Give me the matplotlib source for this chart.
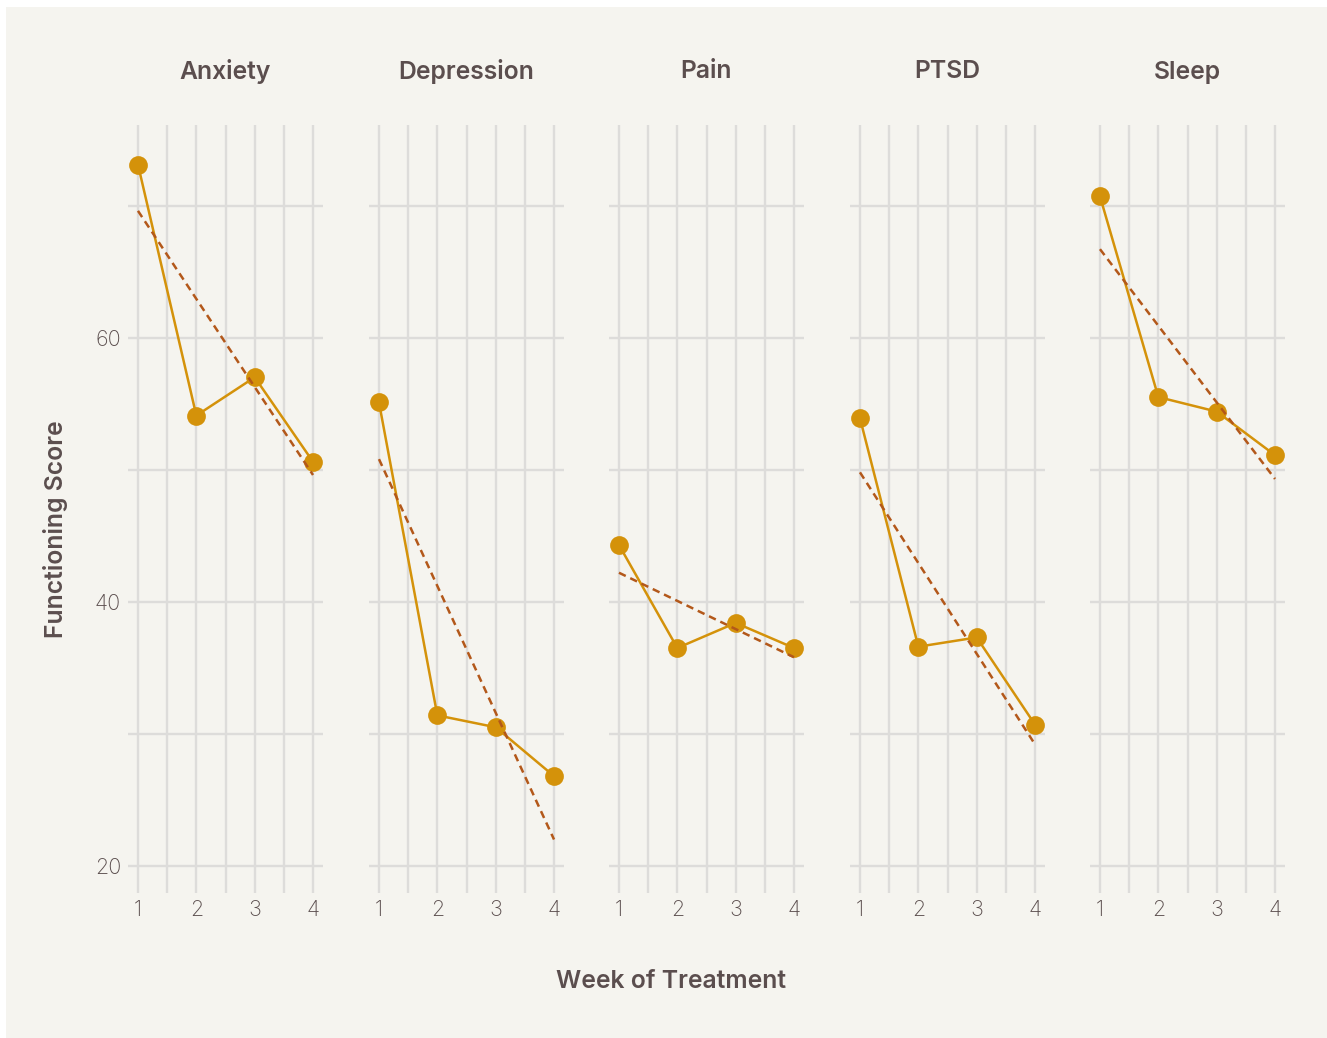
import numpy as np
import matplotlib.pyplot as plt
from matplotlib.patches import Rectangle

plt.rcParams['font.family'] = ['Inter', 'DejaVu Sans']

# data
conditions = ['Anxiety', 'Depression', 'Pain', 'PTSD', 'Sleep']
weeks = [1, 2, 3, 4]
scores = {
    'Anxiety':    [73.1, 54.1, 57.0, 50.6],
    'Depression': [55.1, 31.4, 30.5, 26.8],
    'Pain':       [44.3, 36.5, 38.4, 36.5],
    'PTSD':       [53.9, 36.6, 37.3, 30.7],
    'Sleep':      [70.7, 55.5, 54.4, 51.1],
}
# dashed trend: value at week 1 and at week 4
trend_start = [69.6, 50.8, 42.2, 49.8, 66.7]
trend_end = [49.6, 22.0, 35.8, 29.2, 49.3]

bg = '#f5f4ef'
txt = '#5b4e4e'
grid_c = '#dddcda'
line_c = '#d4920a'
trend_c = '#b3581a'

W, H = 1327, 1038
fig = plt.figure(figsize=(W / 100, H / 100), dpi=100, facecolor='white')
fig.patches.append(Rectangle((6 / W, 0), 1, 1 - 7 / H, transform=fig.transFigure,
                             facecolor=bg, edgecolor='none', zorder=-10))

lefts = [128, 369, 609, 850, 1090]
pw = 195
top, bottom = 125, 893

for i, name in enumerate(conditions):
    ax = fig.add_axes([lefts[i] / W, 1 - bottom / H, pw / W, (bottom - top) / H])
    ax.set_facecolor('none')
    ax.set_xlim(0.829, 4.171)
    ax.set_ylim(17.95, 76.1)
    for s in ax.spines.values():
        s.set_visible(False)
    for gx in np.arange(1, 4.01, 0.5):
        ax.axvline(gx, color=grid_c, lw=1.7, zorder=0)
    for gy in range(20, 71, 10):
        ax.axhline(gy, color=grid_c, lw=1.7, zorder=0)

    ax.plot(weeks, scores[name], color=line_c, lw=1.8, marker='o', ms=13.5,
            markeredgewidth=0, zorder=3)
    ax.plot([weeks[0], weeks[-1]], [trend_start[i], trend_end[i]], color=trend_c,
            lw=1.8, dashes=(3, 2), zorder=4)

    ax.set_xticks(weeks)
    ax.set_yticks([20, 40, 60])
    ax.tick_params(length=0, labelsize=15.5, labelcolor=txt, pad=5)
    for lab in ax.get_xticklabels() + ax.get_yticklabels():
        lab.set_fontweight('light')
    if i > 0:
        ax.set_yticklabels([])
    ax.text(0.5, 1 + (top - 72) / (bottom - top), name, transform=ax.transAxes,
            ha='center', va='center', fontsize=17.8, fontweight='semibold', color=txt)

fig.text(55 / W, 1 - 529 / H, 'Functioning Score', rotation=90, ha='center',
         va='center', fontsize=17.8, fontweight='semibold', color=txt)
fig.text(671 / W, 1 - 981 / H, 'Week of Treatment', ha='center', va='center',
         fontsize=17.8, fontweight='semibold', color=txt)

plt.savefig('out.png', dpi=100, facecolor='white')
